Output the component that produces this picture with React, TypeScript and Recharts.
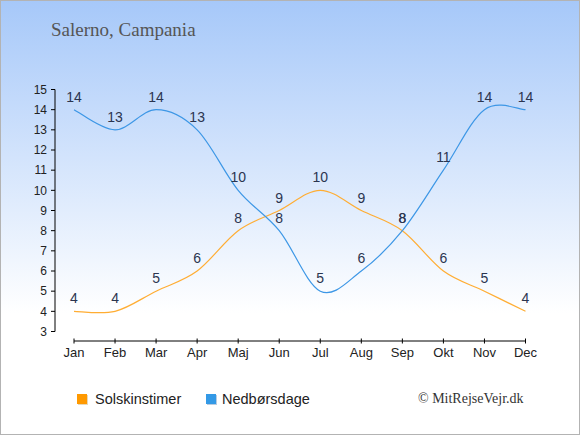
import { LineChart, Line, XAxis, YAxis, LabelList } from "recharts";

const months = ["Jan", "Feb", "Mar", "Apr", "Maj", "Jun", "Jul", "Aug", "Sep", "Okt", "Nov", "Dec"];
const sunHours = [4, 4, 5, 6, 8, 9, 10, 9, 8, 6, 5, 4];
const rainDays = [14, 13, 14, 13, 10, 8, 5, 6, 8, 11, 14, 14];
const yTicks = [3, 4, 5, 6, 7, 8, 9, 10, 11, 12, 13, 14, 15];

const data = months.map((m, i) => ({ month: m, sun: sunHours[i], rain: rainDays[i] }));

const W = 580;
const H = 435;
const PAD_X = 19;
const PLOT_W = 489.5;
const STEP = (PLOT_W - 2 * PAD_X) / (months.length - 1);

// catmull-rom style spline, like the original chart's smooth lines
const smoothCurve = (context: any) => {
  let pts: [number, number][] = [];
  return {
    areaStart() {},
    areaEnd() {},
    lineStart() {
      pts = [];
    },
    lineEnd() {
      if (!pts.length) return;
      context.moveTo(pts[0][0], pts[0][1]);
      for (let i = 0; i < pts.length - 1; i++) {
        const p0 = pts[i - 1] || pts[i];
        const p1 = pts[i];
        const p2 = pts[i + 1];
        const p3 = pts[i + 2] || p2;
        context.bezierCurveTo(
          p1[0] + (p2[0] - p0[0]) / 6,
          p1[1] + (p2[1] - p0[1]) / 6,
          p2[0] - (p3[0] - p1[0]) / 6,
          p2[1] - (p3[1] - p1[1]) / 6,
          p2[0],
          p2[1]
        );
      }
    },
    point(x: number, y: number) {
      pts.push([+x, +y]);
    },
  };
};

const MonthTick = (props: any) => {
  const { x, y, payload, index } = props;
  return (
    <g>
      {index < months.length - 1 && (
        <line x1={x} y1={y + 9.5} x2={x + STEP} y2={y + 9.5} stroke="#000" strokeWidth={1} />
      )}
      <line x1={x} y1={y + 7} x2={x} y2={y + 12} stroke="#000" strokeWidth={1} />
      <text x={x} y={y + 25} textAnchor="middle" fontSize={13} fill="#222" fontFamily="'Liberation Sans', Arial, sans-serif">
        {payload.value}
      </text>
    </g>
  );
};

const labelStyle = { fontSize: 14, fill: "#2b3550", fontFamily: "'Liberation Sans', Arial, sans-serif" };

export default function App() {
  return (
    <div
      style={{
        position: "absolute",
        left: 0,
        top: 0,
        width: W,
        height: H,
        background: "linear-gradient(to bottom, #a6c8f9 0%, #ffffff 72%)",
        boxShadow: "inset 0 0 0 1px #b3b3b3",
        fontFamily: "'Liberation Sans', Arial, sans-serif",
      }}
    >
      <div
        style={{
          position: "absolute",
          left: 51,
          top: 19,
          fontFamily: "'Liberation Serif', 'Times New Roman', serif",
          fontSize: 19,
          color: "#555",
          whiteSpace: "nowrap",
        }}
      >
        Salerno, Campania
      </div>

      <LineChart
        width={W}
        height={H}
        data={data}
        margin={{ top: 89.5, right: W - 55 - PLOT_W, bottom: 73.5, left: 15 }}
        style={{ position: "absolute", left: 0, top: 0 }}
      >
        <XAxis
          dataKey="month"
          height={30}
          padding={{ left: PAD_X, right: PAD_X }}
          axisLine={false}
          tickLine={false}
          tickSize={0}
          tickMargin={0}
          interval={0}
          tick={<MonthTick />}
        />
        <YAxis
          domain={[3, 15]}
          ticks={yTicks}
          interval={0}
          width={40}
          tickSize={4}
          tickMargin={4}
          axisLine={{ stroke: "#000" }}
          tickLine={{ stroke: "#000" }}
          tick={{ fontSize: 12, fill: "#222" }}
        />
        <Line
          dataKey="sun"
          type={smoothCurve as any}
          stroke="#ffad33"
          strokeWidth={1.2}
          dot={false}
          isAnimationActive={false}
        >
          <LabelList dataKey="sun" position="top" offset={8} style={labelStyle} />
        </Line>
        <Line
          dataKey="rain"
          type={smoothCurve as any}
          stroke="#3d97e6"
          strokeWidth={1.2}
          dot={false}
          isAnimationActive={false}
        >
          <LabelList dataKey="rain" position="top" offset={8} style={labelStyle} />
        </Line>
      </LineChart>

      <div style={{ position: "absolute", left: 77, top: 394, width: 10, height: 10, background: "#ff9900", boxShadow: "1px 1px 0 #e8d8b8" }} />
      <div style={{ position: "absolute", left: 95, top: 390, fontSize: 14.5, lineHeight: "18px", color: "#222" }}>
        Solskinstimer
      </div>
      <div style={{ position: "absolute", left: 206, top: 394, width: 10, height: 10, background: "#3399e6", boxShadow: "1px 1px 0 #b8cce0" }} />
      <div style={{ position: "absolute", left: 222, top: 390, fontSize: 14.5, lineHeight: "18px", color: "#222" }}>
        Nedbørsdage
      </div>
      <div
        style={{
          position: "absolute",
          left: 418,
          top: 390,
          fontSize: 14,
          lineHeight: "18px",
          color: "#333",
          fontFamily: "'Liberation Serif', 'Times New Roman', serif",
          whiteSpace: "nowrap",
        }}
      >
        © MitRejseVejr.dk
      </div>
    </div>
  );
}
